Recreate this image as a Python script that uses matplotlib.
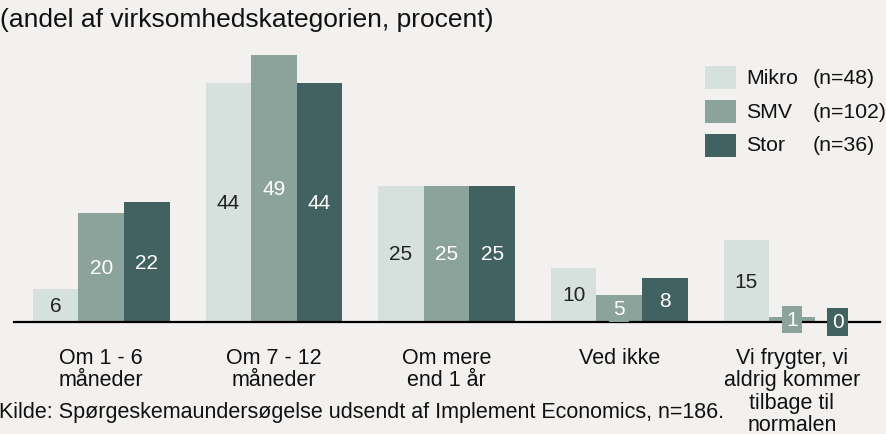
import matplotlib
matplotlib.use("Agg")
import matplotlib.pyplot as plt
import numpy as np
from matplotlib.patches import Rectangle

plt.rcParams['font.family'] = ['Liberation Sans', 'DejaVu Sans']

categories = ["Om 1 - 6\nmåneder", "Om 7 - 12\nmåneder", "Om mere\nend 1 år",
              "Ved ikke", "Vi frygter, vi\naldrig kommer\ntilbage til\nnormalen"]
series_names = ["Mikro", "SMV", "Stor"]
series_n = ["(n=48)", "(n=102)", "(n=36)"]
mikro = [6, 44, 25, 10, 15]
smv = [20, 49, 25, 5, 1]
stor = [22, 44, 25, 8, 0]
subtitle = "(andel af virksomhedskategorien, procent)"
source = "Kilde: Spørgeskemaundersøgelse udsendt af Implement Economics, n=186."

colors = ["#D6E0DD", "#8BA39A", "#416260"]
text_colors = ["#222222", "white", "white"]
bg = "#F2F1EF"

W, H = 887, 435
fig = plt.figure(figsize=(W / 100, H / 100), dpi=100, facecolor=bg)
ax = fig.add_axes([14 / W, (H - 323) / H, (880 - 14) / W, 283 / H])
ax.set_facecolor(bg)

x = np.arange(len(categories))
bw = 0.264
for i, (vals, col, tc) in enumerate(zip([mikro, smv, stor], colors, text_colors)):
    pos = x + (i - 1) * bw
    ax.bar(pos, vals, width=bw, color=col, zorder=2)
    for p, v in zip(pos, vals):
        ax.text(p, v / 2, str(v), ha="center", va="center", fontsize=15, color=tc,
                zorder=5, clip_on=False,
                bbox=dict(boxstyle="square,pad=0.2", fc=col, ec="none"))

ax.set_xlim(-0.505, 4.51)
ax.set_ylim(0, 52)
for s in ["top", "right", "left"]:
    ax.spines[s].set_visible(False)
ax.spines["bottom"].set_linewidth(1.6)
ax.spines["bottom"].set_color("black")
ax.spines["bottom"].set_zorder(3)
ax.set_yticks([])
ax.set_xticks(x)
ax.set_xticklabels(categories, fontsize=15.5, color="#111111", linespacing=1.08)
ax.tick_params(axis="x", length=0, pad=18)

# legend
for k, (name, n, col) in enumerate(zip(series_names, series_n, colors)):
    yc = 78 + 34 * k
    fig.patches.append(Rectangle((705 / W, (H - yc - 11.5) / H), 31 / W, 23 / H,
                                 transform=fig.transFigure, fc=col, ec="none"))
    fig.text(746 / W, (H - yc) / H, name, fontsize=15.3, va="center", ha="left", color="#111111")
    fig.text(813 / W, (H - yc) / H, n, fontsize=15.3, va="center", ha="left", color="#111111")

fig.text(0 / W, (H - 20) / H, subtitle, fontsize=19, va="center", ha="left", color="#111111")
fig.text(-1 / W, (H - 413) / H, source, fontsize=15.5, va="center", ha="left", color="#111111")

fig.savefig("out.png", dpi=100, facecolor=bg)
